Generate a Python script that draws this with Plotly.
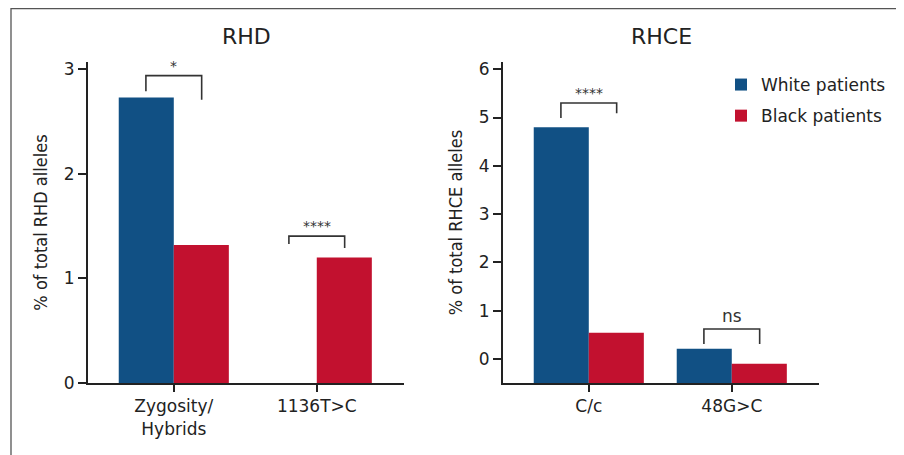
import plotly.graph_objects as go

# ---- data ----
rhd_categories = ["Zygosity/<br>Hybrids", "1136T>C"]
rhd_white = [2.73, 0.0]
rhd_black = [1.32, 1.20]

rhce_categories = ["C/c", "48G>C"]
rhce_white = [4.80, 0.21]
rhce_black = [0.54, -0.10]

series_names = ["White patients", "Black patients"]
colors = ["#115084", "#c2112f"]

rhd_sig = ["*", "****"]
rhce_sig = ["****", "ns"]

# bracket heights (data units): top, left leg bottom, right leg bottom
rhd_brackets = [(2.94, 2.79, 2.71), (1.405, 1.33, 1.29)]
rhce_brackets = [(5.30, 4.99, 5.09), (0.62, 0.31, 0.31)]

rhd_range = [0, 3.07]
rhce_range = [-0.5, 6.15]

# page body has an 8px margin; figure sized so it ends at the window edge
OFF = 8
W, H = 896, 447


def px(x):
    return (x - OFF) / W


def py(y):
    return 1 - (y - OFF) / H


FONT = "DejaVu Sans, Verdana, sans-serif"
YTFONT = "DejaVu Sans Condensed, Liberation Sans, Arial, sans-serif"
TXT = "#222222"

fig = go.Figure()

# RHD panel
for name, vals, c in zip(series_names, [rhd_white, rhd_black], colors):
    fig.add_trace(go.Bar(x=rhd_categories, y=vals, base=rhd_range[0], name=name,
                         marker=dict(color=c, line=dict(width=0)),
                         xaxis="x", yaxis="y", showlegend=False, legendgroup=name))
# RHCE panel (bars drawn from the bottom of the axis)
base2 = rhce_range[0]
for name, vals, c in zip(series_names, [rhce_white, rhce_black], colors):
    fig.add_trace(go.Bar(x=rhce_categories, y=[v - base2 for v in vals], base=base2, name=name,
                         marker=dict(color=c, line=dict(width=0)),
                         xaxis="x2", yaxis="y2", showlegend=True, legendgroup=name))

shapes = []
annotations = []

half = 0.195


def add_brackets(brackets, sigs, xref, yref):
    for i, (br, s) in enumerate(zip(brackets, sigs)):
        top, l_bot, r_bot = br
        x0, x1 = i - half, i + half
        shapes.append(dict(type="path", xref=xref, yref=yref,
                           path=f"M {x0},{l_bot} L {x0},{top} L {x1},{top} L {x1},{r_bot}",
                           line=dict(color="#333333", width=1.6)))
        is_star = s.startswith("*")
        annotations.append(dict(x=i, y=top, xref=xref, yref=yref, text=s, showarrow=False,
                                yanchor="bottom", yshift=0 if is_star else 1,
                                font=dict(family=FONT, size=14 if is_star else 17, color="#333333")))


add_brackets(rhd_brackets, rhd_sig, "x", "y")
add_brackets(rhce_brackets, rhce_sig, "x2", "y2")

# outer frame
shapes.append(dict(type="rect", xref="paper", yref="paper",
                   x0=px(11), x1=px(899), y0=-0.2, y1=py(8.5),
                   line=dict(color="#555555", width=1.3), fillcolor="rgba(0,0,0,0)", layer="below"))

# panel titles
annotations.append(dict(x=px((88 + 404) / 2), y=py(37), xref="paper", yref="paper",
                        xanchor="center", yanchor="middle",
                        text="RHD", showarrow=False, font=dict(family=FONT, size=22, color=TXT)))
annotations.append(dict(x=px((503 + 819) / 2), y=py(37), xref="paper", yref="paper",
                        xanchor="center", yanchor="middle",
                        text="RHCE", showarrow=False, font=dict(family=FONT, size=22, color=TXT)))

axis_common = dict(showline=True, linecolor="#222222", linewidth=2, ticks="outside",
                   tickcolor="#222222", tickwidth=1.6, showgrid=False, zeroline=False,
                   tickfont=dict(family=FONT, size=17, color=TXT))

ydom = [py(383), py(62)]
fig.update_layout(
    width=W, height=H,
    margin=dict(l=0, r=0, t=0, b=0, autoexpand=False),
    paper_bgcolor="white", plot_bgcolor="white",
    barmode="group", bargap=0.23, bargroupgap=0,
    xaxis=dict(domain=[px(88), px(404)], range=[-0.6, 1.61], ticklen=7, anchor="y", **axis_common),
    yaxis=dict(domain=ydom, range=rhd_range, tickvals=[0, 1, 2, 3], ticklen=8, anchor="x",
               title=dict(text="% of total RHD alleles", standoff=11,
                          font=dict(family=YTFONT, size=18, color=TXT)),
               **axis_common),
    xaxis2=dict(domain=[px(503), px(819)], range=[-0.6, 1.61], ticklen=7, anchor="y2", **axis_common),
    yaxis2=dict(domain=ydom, range=rhce_range, tickvals=[0, 1, 2, 3, 4, 5, 6], ticklen=8, anchor="x2",
                title=dict(text="% of total RHCE alleles", standoff=11,
                           font=dict(family=YTFONT, size=18, color=TXT)),
                **axis_common),
    legend=dict(x=px(721), y=py(67), xanchor="left", yanchor="top",
                font=dict(family=FONT, size=17, color=TXT),
                traceorder="grouped", tracegroupgap=6, bgcolor="rgba(0,0,0,0)"),
    shapes=shapes, annotations=annotations,
)

fig.write_html("out.html")
